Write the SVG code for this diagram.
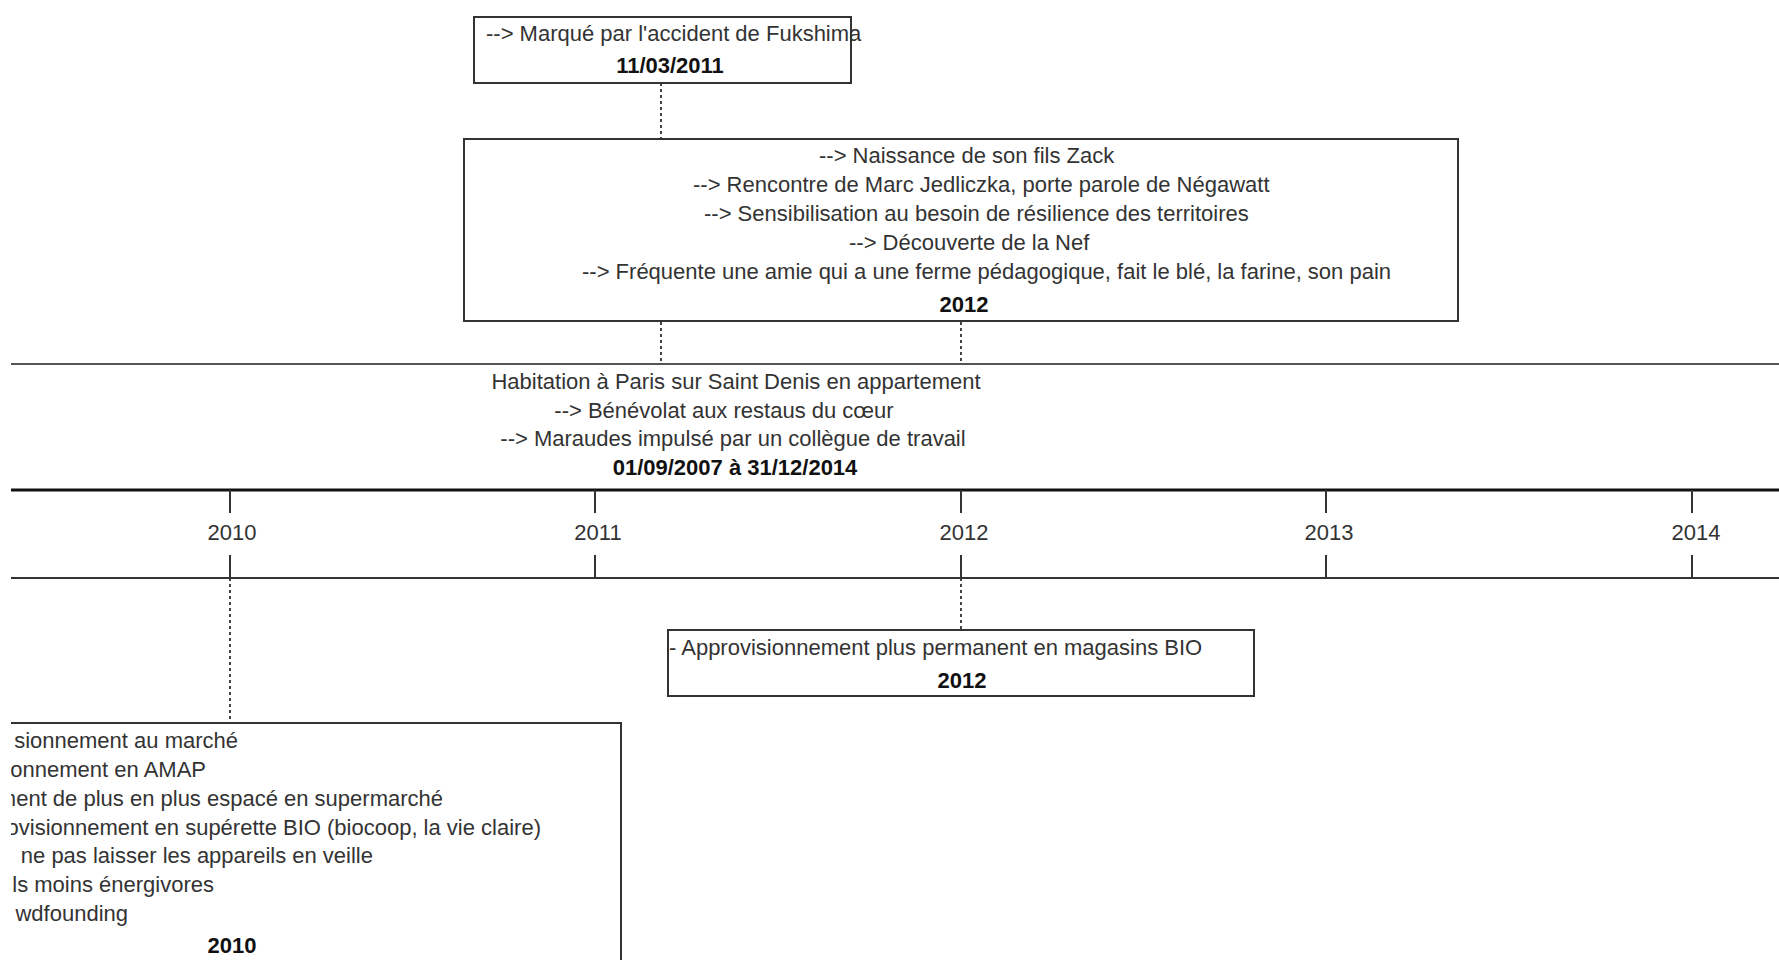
<svg xmlns="http://www.w3.org/2000/svg" width="1779" height="960" viewBox="0 0 1779 960">
<defs>
<clipPath id="view"><rect x="11" y="0" width="1768" height="960"/></clipPath>
<style>
.t{font-family:"Liberation Sans",Arial,sans-serif;font-size:22px;fill:#333}
.b{font-family:"Liberation Sans",Arial,sans-serif;font-size:22px;font-weight:bold;fill:#111}
.c{text-anchor:middle}
.e{text-anchor:end}
.box{fill:#fff;stroke:#333;stroke-width:2}
.dot{stroke:#444;stroke-width:2;stroke-dasharray:3 3;fill:none}
.tick{stroke:#333;stroke-width:2}
</style>
</defs>
<rect width="1779" height="960" fill="#fff"/>
<g clip-path="url(#view)">
<g id="connectors">
<line class="dot" x1="661" y1="83" x2="661" y2="138"/>
<line class="dot" x1="661" y1="322" x2="661" y2="364"/>
<line class="dot" x1="961" y1="322" x2="961" y2="364"/>
<line class="dot" x1="961" y1="578" x2="961" y2="630"/>
<line class="dot" x1="230" y1="578" x2="230" y2="723"/>
</g>
<g id="timeline">
<line x1="0" y1="364" x2="1779" y2="364" stroke="#555" stroke-width="2"/>
<line x1="0" y1="490" x2="1779" y2="490" stroke="#111" stroke-width="3"/>
<line x1="0" y1="578" x2="1779" y2="578" stroke="#333" stroke-width="2"/>
<line class="tick" x1="230" y1="490" x2="230" y2="513"/><line class="tick" x1="230" y1="555" x2="230" y2="578"/>
<line class="tick" x1="595" y1="490" x2="595" y2="513"/><line class="tick" x1="595" y1="555" x2="595" y2="578"/>
<line class="tick" x1="961" y1="490" x2="961" y2="513"/><line class="tick" x1="961" y1="555" x2="961" y2="578"/>
<line class="tick" x1="1326" y1="490" x2="1326" y2="513"/><line class="tick" x1="1326" y1="555" x2="1326" y2="578"/>
<line class="tick" x1="1692" y1="490" x2="1692" y2="513"/><line class="tick" x1="1692" y1="555" x2="1692" y2="578"/>
<text class="t c" x="232" y="540">2010</text>
<text class="t c" x="598" y="540">2011</text>
<text class="t c" x="964" y="540">2012</text>
<text class="t c" x="1329" y="540">2013</text>
<text class="t c" x="1696" y="540">2014</text>
</g>
<g id="node-fukushima">
<rect class="box" x="474" y="17" width="377" height="66"/>
<text class="t" x="486" y="41">--&gt; Marqué par l'accident de Fukshima</text>
<text class="b c" x="670" y="73">11/03/2011</text>
</g>
<g id="node-2012-top">
<rect class="box" x="464" y="139" width="994" height="182"/>
<text class="t" x="819" y="163">--&gt; Naissance de son fils Zack</text>
<text class="t" x="693" y="192">--&gt; Rencontre de Marc Jedliczka, porte parole de Négawatt</text>
<text class="t" x="704" y="221">--&gt; Sensibilisation au besoin de résilience des territoires</text>
<text class="t" x="849" y="250">--&gt; Découverte de la Nef</text>
<text class="t" x="582" y="279">--&gt; Fréquente une amie qui a une ferme pédagogique, fait le blé, la farine, son pain</text>
<text class="b c" x="964" y="312">2012</text>
</g>
<g id="node-habitation">
<text class="t c" x="736" y="389">Habitation à Paris sur Saint Denis en appartement</text>
<text class="t c" x="724" y="418">--&gt; Bénévolat aux restaus du cœur</text>
<text class="t c" x="733" y="446">--&gt; Maraudes impulsé par un collègue de travail</text>
<text class="b c" x="735" y="475">01/09/2007 à 31/12/2014</text>
</g>
<g id="node-2012-bottom">
<rect class="box" x="668" y="630" width="586" height="66"/>
<text class="t" x="669" y="655">- Approvisionnement plus permanent en magasins BIO</text>
<text class="b c" x="962" y="688">2012</text>
</g>
<g id="node-2010">
<rect class="box" x="-20" y="723" width="641" height="260"/>
<text class="t e" x="238" y="748">sionnement au marché</text>
<text class="t e" x="206" y="777">onnement en AMAP</text>
<text class="t e" x="443" y="806">ment de plus en plus espacé en supermarché</text>
<text class="t e" x="541" y="835">ovisionnement en supérette BIO (biocoop, la vie claire)</text>
<text class="t e" x="373" y="863">ne pas laisser les appareils en veille</text>
<text class="t e" x="214" y="892">ls moins énergivores</text>
<text class="t e" x="128" y="921">wdfounding</text>
<text class="b c" x="232" y="953">2010</text>
</g>
</g>
</svg>
